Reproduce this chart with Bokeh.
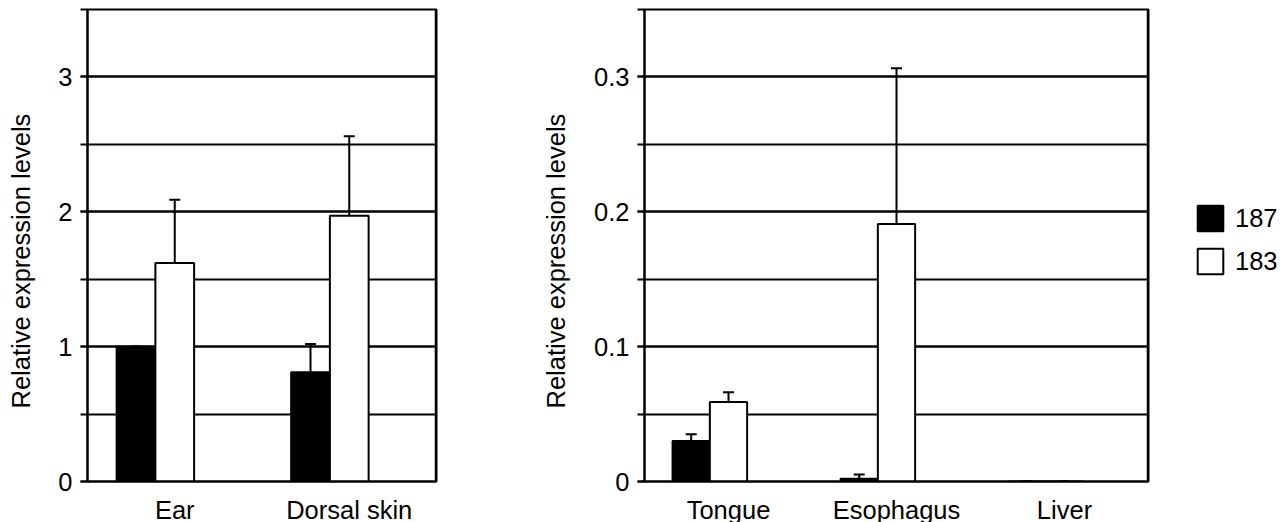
from bokeh.plotting import figure
from bokeh.models import (ColumnDataSource, FactorRange, FixedTicker, Whisker, TeeHead,
                          Legend, LegendItem, Title, Span)
from bokeh.transform import dodge
from bokeh.layouts import row
from bokeh.embed import file_html
from bokeh.resources import INLINE

# ---------------- data ----------------
left_cats = ["Ear", "Dorsal skin"]
left_187 = [1.0, 0.81]
left_187_err = [0.0, 0.21]
left_183 = [1.62, 1.97]
left_183_err = [0.47, 0.59]
left_major_ticks = [0, 1, 2, 3]
left_minor_ticks = [0, 0.5, 1, 1.5, 2, 2.5, 3, 3.5]
left_ymax = 3.5

right_cats = ["Tongue", "Esophagus", "Liver"]
right_187 = [0.030, 0.002, 0.0]
right_187_err = [0.005, 0.0032, 0.0]
right_183 = [0.059, 0.191, 0.0]
right_183_err = [0.0072, 0.1155, 0.0]
right_major_ticks = [0, 0.1, 0.2, 0.3]
right_minor_ticks = [0, 0.05, 0.1, 0.15, 0.2, 0.25, 0.3, 0.35]
right_ymax = 0.35

series_names = ["187", "183"]
ylabel = "Relative expression levels"

FONT = "Liberation Sans"
FS = "25.5px"
BW = 0.222


def make_panel(cats, v187, e187, v183, e183, major, minor, ymax,
               frame_w, mb_left, mb_right, title_standoff, with_legend):
    src = ColumnDataSource(dict(
        cat=cats, v187=v187, v183=v183,
        u187=[v + e for v, e in zip(v187, e187)],
        l187=[v - e for v, e in zip(v187, e187)],
        u183=[v + e for v, e in zip(v183, e183)],
        l183=[v - e for v, e in zip(v183, e183)],
    ))
    p = figure(x_range=FactorRange(factors=cats, range_padding=0),
               y_range=(0, ymax),
               frame_width=frame_w, frame_height=472,
               min_border_left=mb_left, min_border_right=mb_right,
               min_border_top=9, min_border_bottom=41,
               output_backend="svg", toolbar_location=None,
               background_fill_color="white", border_fill_color="white")
    p.outline_line_color = "black"
    p.outline_line_width = 2

    ticker = FixedTicker(ticks=major, minor_ticks=minor)
    p.yaxis.ticker = ticker
    p.ygrid.ticker = ticker
    p.ygrid.grid_line_color = "black"
    p.ygrid.grid_line_width = 2
    p.ygrid.minor_grid_line_color = "black"
    p.ygrid.minor_grid_line_width = 2
    p.xgrid.grid_line_color = None

    p.yaxis.axis_line_width = 2
    p.yaxis.major_tick_in = 0
    p.yaxis.major_tick_out = 7
    p.yaxis.major_tick_line_width = 2
    p.yaxis.minor_tick_in = 0
    p.yaxis.minor_tick_out = 7
    p.yaxis.minor_tick_line_width = 2
    p.yaxis.major_label_standoff = 8
    p.yaxis.major_label_text_font = FONT
    p.yaxis.major_label_text_font_size = FS
    p.yaxis.major_label_text_color = "black"

    p.xaxis.axis_line_width = 2
    p.xaxis.major_tick_line_color = None
    p.xaxis.minor_tick_line_color = None
    p.xaxis.major_label_standoff = 8
    p.xaxis.major_label_text_font = FONT
    p.xaxis.major_label_text_font_size = FS
    p.xaxis.major_label_text_color = "black"

    # y axis title
    p.add_layout(Title(text=ylabel, align="left", offset=73, vertical_align="middle",
                       standoff=title_standoff,
                       text_font=FONT, text_font_size=FS,
                       text_font_style="normal", text_color="black"), "left")

    p.add_layout(Span(location=len(cats), dimension="height",
                      line_color="black", line_width=3.5))

    r1 = p.vbar(x=dodge("cat", -BW, range=p.x_range), top="v187", width=BW,
                source=src, fill_color="black", line_color="black", line_width=2)
    r2 = p.vbar(x=dodge("cat", 0, range=p.x_range), top="v183", width=BW,
                source=src, fill_color="white", line_color="black", line_width=2)

    for xoff, up, lo in [(-BW, "u187", "l187"), (0, "u183", "l183")]:
        w = Whisker(base=dodge("cat", xoff, range=p.x_range), upper=up, lower=lo,
                    source=src, line_color="black", line_width=2,
                    upper_head=TeeHead(size=11, line_color="black", line_width=2),
                    lower_head=TeeHead(size=11, line_color="black", line_width=2))
        p.add_layout(w)

    if with_legend:
        leg = Legend(items=[LegendItem(label=series_names[0], renderers=[r1]),
                            LegendItem(label=series_names[1], renderers=[r2])],
                     location=(46, 204), glyph_width=32, glyph_height=32,
                     spacing=11, label_standoff=9, padding=0, margin=0,
                     border_line_color=None, background_fill_alpha=0,
                     label_text_font=FONT, label_text_font_size=FS,
                     label_text_color="black")
        p.add_layout(leg, "right")
    return p


p1 = make_panel(left_cats, left_187, left_187_err, left_183, left_183_err,
                left_major_ticks, left_minor_ticks, left_ymax,
                349, 101, 82, 39, False)
p2 = make_panel(right_cats, right_187, right_187_err, right_183, right_183_err,
                right_major_ticks, right_minor_ticks, right_ymax,
                504, 126, 136, 41, True)

layout = row(p1, p2, styles={"margin-left": "-14px"})
open("out.html", "w").write(file_html(layout, INLINE))
